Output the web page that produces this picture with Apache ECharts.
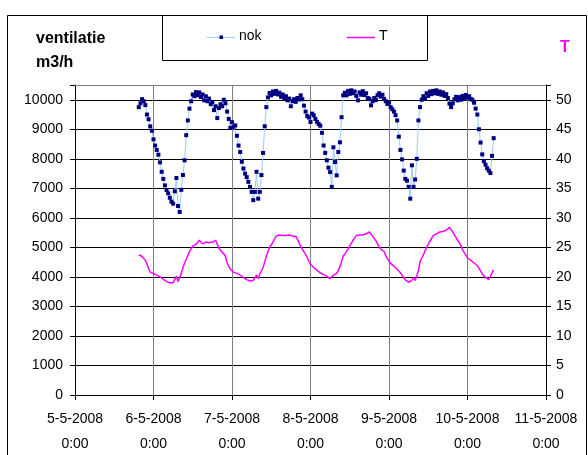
<!DOCTYPE html>
<html>
<head>
<meta charset="utf-8">
<script src="https://cdn.jsdelivr.net/npm/echarts@6/dist/echarts.min.js"></script>
<style>
  html, body { margin: 0; padding: 0; background: #fff; }
  #chart { width: 588px; height: 455px; }
</style>
</head>
<body>
<div id="chart"></div>
<script>
// Ventilation flow (nok, m3/h) and temperature (T) logged every 30 minutes.
// Hours are counted from 5-5-2008 0:00.
const startHour = 19.5;
const stepHours = 0.5;

const tickLabels = [
  '5-5-2008\n0:00', '6-5-2008\n0:00', '7-5-2008\n0:00', '8-5-2008\n0:00',
  '9-5-2008\n0:00', '10-5-2008\n0:00', '11-5-2008\n0:00'
];

const nokValues = [
  9750, 9880, 10020, 9950, 9820, 9500, 9340, 9100, 8950, 8660, 8450, 8300,
  8140, 7880, 7560, 7320, 7100, 6940, 6830, 6680, 6550, 6480, 6900, 7350,
  6400, 6200, 6950, 7450, 7950, 8800, 9300, 9700, 9950, 10180, 10120, 10260,
  10150, 10250, 10090, 10180, 9980, 10120, 9950, 10040, 9850, 9920, 9650, 9780,
  9380, 9720, 9850, 9780, 10000, 9880, 9600, 9350, 9050, 9240, 9080, 9130,
  8780, 8450, 8230, 7900, 7670, 7500, 7380, 7220, 7050, 6880, 6600, 6880,
  7560, 6650, 6880, 7450, 8200, 9100, 9750, 10080, 10230, 10150, 10280, 10200,
  10300, 10180, 10240, 10100, 10180, 10050, 10120, 9980, 10040, 9780, 9950, 10020,
  9930, 10060, 10010, 10150, 10020, 9800, 9600, 9450, 9400, 9250, 9530, 9470,
  9350, 9250, 9180, 9120, 8880, 8450, 8200, 7950, 7700, 7550, 7050, 8390,
  7890, 7440, 8230, 8560, 9410, 10150, 10240, 10150, 10300, 10200, 10320, 10220,
  10280, 10130, 9980, 10250, 10170, 10290, 10160, 10220, 10060, 10030, 9810, 9950,
  10060, 9990, 10150, 10220, 10110, 10170, 10030, 9950, 9860, 9900, 9750, 9680,
  9600, 9480, 9300, 8750, 8300, 7980, 7600, 7320, 7260, 7050, 6650, 7780,
  7050, 7300, 8000, 9300, 9750, 10000, 10120, 10050, 10220, 10130, 10280, 10190,
  10300, 10220, 10320, 10200, 10280, 10170, 10250, 10130, 10190, 10060, 9870, 9750,
  9880, 10020, 10100, 9980, 10090, 10000, 10130, 10040, 10160, 10070, 10120, 10030,
  10000, 9900, 9700, 9500, 9000, 8550, 8150, 7920, 7800, 7680, 7600, 7520,
  8100, 8700
];

const tValues = [
  23.7, 23.6, 23.5, 23.3, 22.8, 22.2, 21.4, 20.8, 20.7, 20.6, 20.5, 20.3,
  20.2, 20.0, 19.8, 19.6, 19.4, 19.2, 19.1, 19.0, 19.0, 19.0, 19.2, 20.1,
  19.2, 19.9, 20.6, 21.6, 22.3, 23.0, 23.6, 24.3, 24.8, 25.2, 25.4, 25.5,
  25.8, 26.2, 25.9, 25.6, 25.8, 25.9, 25.7, 25.8, 25.7, 25.9, 26.0, 26.2,
  25.5, 24.9, 24.5, 24.2, 23.9, 23.5, 22.4, 21.8, 21.3, 21.0, 20.8, 20.7,
  20.6, 20.4, 20.3, 20.1, 19.9, 19.7, 19.55, 19.4, 19.3, 19.3, 19.4, 19.5,
  20.3, 19.7, 20.5, 21.0, 21.6, 22.5, 23.5, 24.3, 25.0, 25.4, 25.9, 26.4,
  26.9, 27.0, 27.1, 27.0, 27.0, 27.1, 27.0, 27.1, 27.1, 27.0, 26.9, 27.0,
  26.9, 26.6, 25.8, 25.2, 24.7, 24.4, 23.8, 23.3, 22.6, 22.2, 21.9, 21.6,
  21.4, 21.1, 20.9, 20.7, 20.6, 20.4, 20.2, 20.1, 19.9, 19.7, 19.8, 20.3,
  20.4, 20.6, 21.1, 21.7, 22.6, 23.5, 23.9, 24.2, 24.7, 25.3, 25.7, 26.2,
  26.6, 27.0, 27.0, 27.1, 27.0, 27.1, 27.2, 27.3, 27.4, 27.6, 27.3, 26.9,
  26.6, 26.1, 25.6, 25.1, 24.7, 24.5, 24.3, 23.6, 23.1, 22.7, 22.3, 22.0,
  21.8, 21.6, 21.3, 21.0, 20.7, 20.3, 19.9, 19.5, 19.2, 19.1, 19.0, 19.4,
  19.9, 19.4, 20.2, 21.1, 22.6, 23.2, 23.7, 24.4, 25.0, 25.5, 26.0, 26.5,
  27.0, 27.1, 27.3, 27.4, 27.6, 27.6, 27.7, 27.8, 27.9, 28.1, 28.4, 28.1,
  27.6, 27.1, 26.7, 26.2, 25.8, 25.3, 24.6, 24.1, 23.7, 23.2, 23.0, 22.8,
  22.6, 22.4, 22.2, 21.9, 21.5, 21.0, 20.5, 20.2, 19.9, 19.7, 19.6, 20.1,
  20.7, 21.2
];

const toPairs = vals => vals.map((v, i) => [startHour + i * stepHours, v]);

const FONT = '"Liberation Sans", Arial, sans-serif';
const NOK_LINE = '#99CCFF';
const NOK_MARK = '#000080';
const T_COLOR = '#FF00FF';

const chart = echarts.init(document.getElementById('chart'), null, { renderer: 'canvas' });

chart.setOption({
  animation: false,
  backgroundColor: '#ffffff',
  textStyle: { fontFamily: FONT },
  grid: {
    left: 75, right: 42, top: 85, bottom: 60,
    containLabel: false, outerBoundsMode: 'none'
  },
  xAxis: {
    type: 'value', min: 0, max: 144, interval: 24,
    axisLine: { lineStyle: { color: '#000', width: 1 } },
    axisTick: { show: true, length: 5, lineStyle: { color: '#000' } },
    splitLine: { show: true, lineStyle: { color: '#808080', width: 1 } },
    axisLabel: {
      color: '#000', fontSize: 14, fontFamily: FONT, lineHeight: 25, margin: 12,
      formatter: v => tickLabels[Math.round(v / 24)] || ''
    }
  },
  yAxis: [
    {
      type: 'value', min: 0, max: 10500, interval: 1000,
      axisLine: { show: true, lineStyle: { color: '#000' } },
      axisTick: { show: true, length: 5, lineStyle: { color: '#000' } },
      splitLine: { show: true, lineStyle: { color: '#000', width: 1 } },
      axisLabel: {
        color: '#000', fontSize: 14, fontFamily: FONT, margin: 12,
        formatter: v => (v > 10000 ? '' : String(v))
      }
    },
    {
      type: 'value', min: 0, max: 52.5, interval: 5,
      position: 'right',
      axisLine: { show: true, lineStyle: { color: '#000' } },
      axisTick: { show: true, length: 5, lineStyle: { color: '#000' } },
      splitLine: { show: false },
      axisLabel: {
        color: '#000', fontSize: 14, fontFamily: FONT, margin: 10,
        formatter: v => (v > 50 ? '' : String(v))
      }
    }
  ],
  series: [
    {
      name: 'nok', type: 'line', yAxisIndex: 0,
      data: toPairs(nokValues),
      symbol: 'rect', symbolSize: 4, showSymbol: true,
      itemStyle: { color: NOK_MARK },
      lineStyle: { color: NOK_LINE, width: 1 },
      z: 3
    },
    {
      name: 'T', type: 'line', yAxisIndex: 1,
      data: toPairs(tValues),
      symbol: 'none',
      itemStyle: { color: T_COLOR },
      lineStyle: { color: T_COLOR, width: 1.5 },
      z: 2
    }
  ],
  graphic: [
    // outer frame
    { type: 'rect', shape: { x: 7.5, y: 15.5, width: 579, height: 460 },
      style: { fill: 'none', stroke: '#000', lineWidth: 1 }, silent: true },
    // legend frame with its two keys
    { type: 'rect', shape: { x: 162.5, y: 15.5, width: 265, height: 45 },
      style: { fill: 'none', stroke: '#000', lineWidth: 1 }, silent: true },
    { type: 'line', shape: { x1: 207, y1: 37.5, x2: 235, y2: 37.5 },
      style: { stroke: NOK_LINE, lineWidth: 1 }, silent: true },
    { type: 'rect', shape: { x: 219.5, y: 35.5, width: 3.5, height: 3.5 },
      style: { fill: NOK_MARK }, silent: true },
    { type: 'text', left: 239, top: 29,
      style: { text: 'nok', font: '14px ' + FONT, fill: '#000' } },
    { type: 'line', shape: { x1: 347, y1: 37.5, x2: 375, y2: 37.5 },
      style: { stroke: T_COLOR, lineWidth: 1.5 }, silent: true },
    { type: 'text', left: 379, top: 29,
      style: { text: 'T', font: '14px ' + FONT, fill: '#000' } },
    // top edge of the plot area
    { type: 'line', shape: { x1: 75, y1: 85.5, x2: 546, y2: 85.5 },
      style: { stroke: '#808080', lineWidth: 1 }, z: 10, silent: true },
    // left axis title
    { type: 'text', left: 36, top: 27,
      style: { text: 'ventilatie\nm3/h', font: 'bold 16px ' + FONT, fill: '#000', lineHeight: 24 } },
    // right axis title
    { type: 'text', left: 560, top: 40,
      style: { text: 'T', font: 'bold 16px ' + FONT, fill: T_COLOR } }
  ]
});
</script>
</body>
</html>
